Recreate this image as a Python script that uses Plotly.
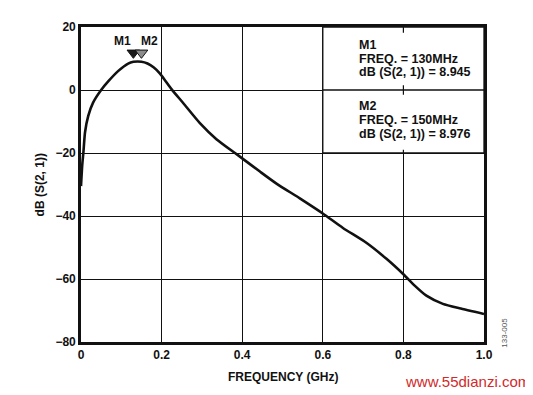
import plotly.graph_objects as go

# Data
freq_ghz = [0.0, 0.003, 0.006, 0.010, 0.018, 0.030, 0.050, 0.068, 0.092, 0.117, 0.13, 0.15,
            0.165, 0.18, 0.196, 0.21, 0.225, 0.254, 0.295, 0.336, 0.382, 0.40, 0.444, 0.485,
            0.543, 0.60, 0.65, 0.708, 0.758, 0.80, 0.828, 0.857, 0.898, 0.939, 1.0]
s21_db = [-30.5, -23.9, -19.7, -13.4, -8.2, -4.0, 0.0, 2.8, 6.0, 8.4, 8.945, 8.976,
          8.4, 7.2, 5.2, 2.8, 0.2, -4.2, -10.5, -15.6, -20.0, -21.7, -25.9, -29.7,
          -34.4, -39.2, -43.8, -48.5, -53.6, -58.5, -62.1, -65.3, -67.9, -69.3, -71.1]

marker_names = ["M1", "M2"]
marker_freq = [0.13, 0.15]
marker_db = [8.945, 8.976]
marker_colors = ["#1a1a1a", "#8c8c8c"]

x_ticks = [0, 0.2, 0.4, 0.6, 0.8, 1.0]
x_ticklabels = ["0", "0.2", "0.4", "0.6", "0.8", "1.0"]
y_ticks = [-80, -60, -40, -20, 0, 20]
y_ticklabels = ["\u221280", "\u221260", "\u221240", "\u221220", "0", "20"]

FONT = "Liberation Sans, Arial, sans-serif"
BOLD = dict(family=FONT, size=12, color="#111", weight="bold")

fig = go.Figure()
fig.add_trace(go.Scatter(
    x=freq_ghz, y=s21_db, mode="lines",
    line=dict(color="#111", width=2.6, shape="spline", smoothing=0.6),
    hoverinfo="skip", showlegend=False))

# marker triangles
for name, f, c in zip(marker_names, marker_freq, marker_colors):
    fig.add_trace(go.Scatter(
        x=[f], y=[11.8], mode="markers",
        marker=dict(symbol="triangle-down", size=11, color=c,
                    line=dict(color="#111", width=1)),
        showlegend=False, hoverinfo="skip"))

shapes = [
    # white marker table box covering grid
    dict(type="rect", xref="x", yref="y", x0=0.6, x1=1.0, y0=-20, y1=20,
         fillcolor="white", line=dict(color="#111", width=1.3), layer="between"),
    dict(type="line", xref="x", yref="y", x0=0.6, x1=1.0, y0=0, y1=0,
         line=dict(color="#111", width=1.3), layer="between"),
    # small ticks at 0.8 inside box
    dict(type="line", xref="x", yref="y", x0=0.8, x1=0.8, y0=20, y1=18.2,
         line=dict(color="#111", width=1.2), layer="between"),
    dict(type="line", xref="x", yref="y", x0=0.8, x1=0.8, y0=-1.5, y1=1.5,
         line=dict(color="#111", width=1.2), layer="between"),
    dict(type="line", xref="x", yref="y", x0=0.8, x1=0.8, y0=-20, y1=-19,
         line=dict(color="#111", width=1.2), layer="between"),
]

ann = []
TFONT = dict(family=FONT, size=12.5, color="#111", weight="bold")
m1_lines = ["M1", "FREQ. = 130MHz", "dB (S(2, 1)) = 8.945"]
m2_lines = ["M2", "FREQ. = 150MHz", "dB (S(2, 1)) = 8.976"]
for lines, y0 in ((m1_lines, 14.3), (m2_lines, -5.2)):
    for i, t in enumerate(lines):
        ann.append(dict(x=0.686, y=y0 - i * 4.35, xref="x", yref="y", text=t,
                        showarrow=False, xanchor="left", yanchor="middle", font=TFONT))

# marker names above triangles
for name, xm in zip(marker_names, [0.104, 0.171]):
    ann.append(dict(x=xm, y=15.6, xref="x", yref="y", text=name, showarrow=False,
                    xanchor="center", yanchor="middle",
                    font=dict(family=FONT, size=12, color="#111", weight="bold")))

# axis titles
ann.append(dict(x=0.5, y=-0.112, xref="paper", yref="paper", text="FREQUENCY (GHz)",
                showarrow=False, xanchor="center", yanchor="middle", font=BOLD))
ann.append(dict(x=-0.102, y=0.5, xref="paper", yref="paper", text="dB (S(2, 1))",
                showarrow=False, xanchor="center", yanchor="middle", textangle=-90, font=BOLD))
# figure code
ann.append(dict(x=1.05, y=0.03, xref="paper", yref="paper", text="133-005",
                showarrow=False, xanchor="center", yanchor="middle", textangle=-90,
                font=dict(family=FONT, size=8, color="#555")))
# watermark
ann.append(dict(x=1.118, y=-0.125, xref="paper", yref="paper", text="www.55dianzi.com",
                showarrow=False, xanchor="right", yanchor="middle",
                font=dict(family=FONT, size=15, color="#d02a2a")))

# page body has an 8px default margin -> compensate in figure size / margins
fig.update_layout(
    width=525, height=387,
    margin=dict(l=73, r=49, t=13, b=53),
    paper_bgcolor="white", plot_bgcolor="white",
    shapes=shapes, annotations=ann,
    xaxis=dict(range=[0, 1.0], tickvals=x_ticks, ticktext=x_ticklabels,
               showgrid=True, gridcolor="#111", gridwidth=1.3, zeroline=False,
               showline=True, linecolor="#111", linewidth=2.6, mirror=True,
               ticks="", tickfont=BOLD, fixedrange=True),
    yaxis=dict(range=[-80, 20], tickvals=y_ticks, ticktext=y_ticklabels,
               showgrid=True, gridcolor="#111", gridwidth=1.3, zeroline=False,
               showline=True, linecolor="#111", linewidth=2.6, mirror=True,
               ticks="", tickfont=BOLD, fixedrange=True),
)

fig.write_html("out.html")
